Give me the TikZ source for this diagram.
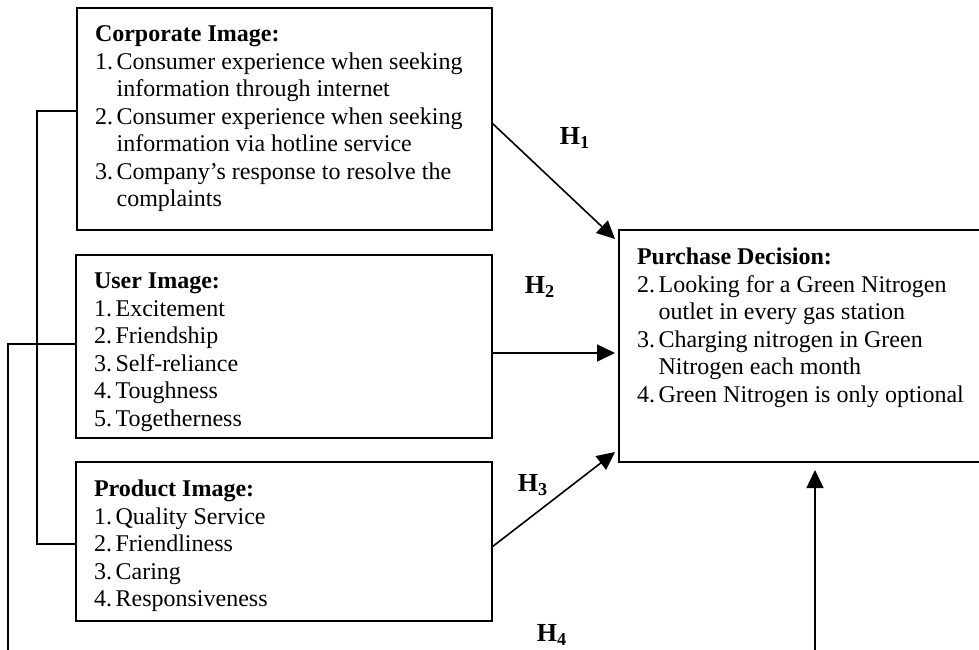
\documentclass[tikz,border=0pt]{standalone}
\usepackage{fontspec}
\setmainfont{Liberation Serif}
\usetikzlibrary{arrows.meta}
\usetikzlibrary{positioning}
\tikzstyle{imagebox} = [rectangle, draw=black, line width=1pt, anchor=north west, inner xsep=9pt, inner ysep=9pt, outer sep=0pt, font=\fontsize{12}{13.75}\selectfont]
\tikzstyle{link} = [line width=0.8pt]
\tikzstyle{hyp} = [link, -{Triangle[length=9pt,width=8.5pt]}]
\tikzstyle{hlabel} = [font=\fontsize{13}{15}\selectfont\bfseries]
\newcommand{\litem}[2]{\par\noindent\hangindent=10.8pt\hangafter=1\makebox[10.8pt][l]{#1.}#2}

\begin{document}
\begin{tikzpicture}[x=0.5pt, y=-0.5pt]
\useasboundingbox (0,0) rectangle (979,649);

  \node (corp) [imagebox] at (77,8) {\parbox[t][93pt][t]{189.5pt}{\raggedright
  \textbf{Corporate Image:}
  \litem{1}{Consumer experience when seeking\newline information through internet}
  \litem{2}{Consumer experience when seeking\newline information via hotline service}
  \litem{3}{Company's response to resolve the\newline complaints}}};

  \node (user) [imagebox] at (76,255) {\parbox[t][73.5pt][t]{190pt}{\raggedright
  \textbf{User Image:}
  \litem{1}{Excitement}
  \litem{2}{Friendship}
  \litem{3}{Self-reliance}
  \litem{4}{Toughness}
  \litem{5}{Togetherness}}};

  \node (prod) [imagebox] at (76,462) {\parbox[t][61.5pt][t]{190pt}{\raggedright
  \textbf{Product Image:}
  \litem{1}{Quality Service}
  \litem{2}{Friendliness}
  \litem{3}{Caring}
  \litem{4}{Responsiveness}}};

  \node (dec) [imagebox] at (619,230) {\parbox[t][98pt][t]{172.5pt}{\raggedright
  \textbf{Purchase Decision:}
  \litem{2}{Looking for a Green Nitrogen\newline outlet in every gas station}
  \litem{3}{Charging nitrogen in Green\newline Nitrogen each month}
  \litem{4}{Green Nitrogen is only optional}}};

  % hypotheses
  \draw[hyp] ([yshift=-2pt]corp.east) -- ([xshift=-2pt,yshift=-4.5pt]dec.north west);
  \draw[hyp, shorten >=2pt] ([yshift=-3.25pt]user.east) -- ([yshift=-3.25pt]user.east -| dec.west);
  \draw[hyp] ([yshift=-2.75pt]prod.east) -- ([xshift=-2pt,yshift=5pt]dec.south west);
  \coordinate (hfoot) at (815,655);
  \draw[hyp, shorten >=4pt] (hfoot) -- (hfoot |- dec.south);

  \node (h1) [hlabel] at (575,138) {H\textsubscript{1}};
  \node (h2) [hlabel] at (540,287) {H\textsubscript{2}};
  \node (h3) [hlabel] at (533,485) {H\textsubscript{3}};
  \node (h4) [hlabel] at (552,635) {H\textsubscript{4}};

  % brackets on the left
  \draw[link] ([yshift=4pt]corp.west) -- ++(-20pt,0) |- ([yshift=-1.25pt]prod.west);
  \coordinate (lfoot) at (8,655);
  \draw[link] ([yshift=1.25pt]user.west) -| (lfoot);
\end{tikzpicture}
\end{document}
